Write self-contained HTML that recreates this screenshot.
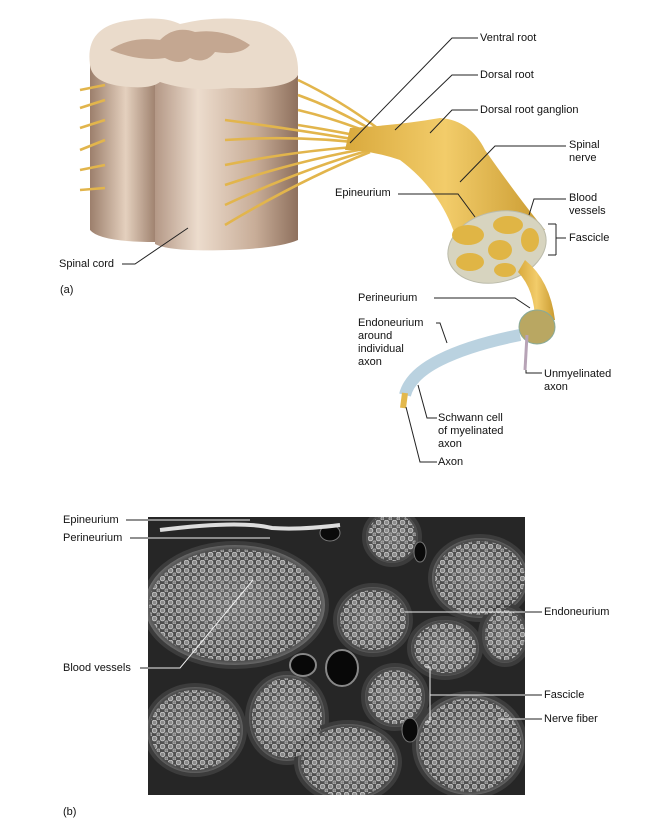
<!DOCTYPE html>
<html><head><meta charset="utf-8"><style>
body{margin:0;background:#fff;width:667px;height:824px;overflow:hidden;position:relative;font-family:"Liberation Sans",Arial,sans-serif}
.t{position:absolute;font-size:11px;line-height:13px;color:#111}
svg{position:absolute;left:0;top:0}
</style></head><body>
<svg width="667" height="824" viewBox="0 0 667 824">
<defs>
<linearGradient id="cl" x1="0" x2="1"><stop offset="0" stop-color="#9c7f6c"/><stop offset=".55" stop-color="#e4d0be"/><stop offset="1" stop-color="#a08370"/></linearGradient>
<linearGradient id="cr" x1="0" x2="1"><stop offset="0" stop-color="#b49886"/><stop offset=".3" stop-color="#ecdccd"/><stop offset=".7" stop-color="#c8ad98"/><stop offset="1" stop-color="#8e705d"/></linearGradient>
<linearGradient id="ny" x1="0" x2="1"><stop offset="0" stop-color="#d9a93c"/><stop offset=".5" stop-color="#f2cc6a"/><stop offset="1" stop-color="#c99a30"/></linearGradient>
<radialGradient id="fas"><stop offset="0" stop-color="#6a6a6a"/><stop offset=".9" stop-color="#4a4a4a"/><stop offset="1" stop-color="#777"/></radialGradient>
<pattern id="dots" width="8" height="8" patternUnits="userSpaceOnUse"><circle cx="2.5" cy="2.5" r="2.3" fill="#999" stroke="#ddd" stroke-width="1"/><circle cx="6.5" cy="6.5" r="1.6" fill="#888" stroke="#ccc" stroke-width=".8"/></pattern>
<clipPath id="mc"><rect x="148" y="517" width="377" height="278"/></clipPath>
</defs>
<!-- spinal cord -->
<path d="M90 65 L90 230 Q100 242 155 242 L155 80 Z" fill="url(#cl)"/>
<path d="M155 80 L155 244 Q170 252 230 250 Q280 248 298 240 L298 75 Z" fill="url(#cr)"/>
<path d="M90 65 Q85 30 120 22 Q160 14 180 24 Q220 14 260 22 Q300 35 298 75 Q290 90 230 88 Q190 92 160 82 Q150 90 120 86 Q92 82 90 65 Z" fill="#eadbcb"/>
<path d="M110 50 Q130 36 160 40 Q175 25 195 32 Q225 28 250 45 Q240 56 215 52 Q205 65 190 58 Q180 66 165 58 Q140 62 110 50Z" fill="#c4a791"/>
<!-- roots -->
<g stroke="#e2b54c" fill="none" stroke-width="2.6">
<path d="M298 80 Q340 100 380 130"/><path d="M298 95 Q340 110 380 135"/><path d="M298 110 Q340 120 380 137"/><path d="M298 125 Q330 130 380 140"/>
<path d="M225 120 Q300 130 370 142"/><path d="M225 140 Q300 135 370 144"/><path d="M225 165 Q300 150 370 146"/><path d="M225 185 Q300 160 370 148"/><path d="M225 205 Q300 170 370 150"/><path d="M225 225 Q300 180 370 152"/>
<path d="M80 90 L105 85"/><path d="M80 108 L105 100"/><path d="M80 128 L105 120"/><path d="M80 150 L105 140"/><path d="M80 170 L105 165"/><path d="M80 190 L105 188"/>
</g>
<!-- nerve -->
<path d="M350 128 Q400 125 440 118 Q470 120 485 150 Q520 200 545 230 L455 235 Q440 190 400 160 Q370 150 345 150 Z" fill="url(#ny)"/>
<ellipse cx="497" cy="247" rx="50" ry="35" transform="rotate(-15 497 247)" fill="#d7d4bf" stroke="#bba"/>
<g fill="#e0b545"><ellipse cx="468" cy="235" rx="16" ry="10"/><ellipse cx="508" cy="225" rx="15" ry="9"/><ellipse cx="500" cy="250" rx="12" ry="10"/><ellipse cx="530" cy="240" rx="9" ry="12"/><ellipse cx="470" cy="262" rx="14" ry="9"/><ellipse cx="505" cy="270" rx="11" ry="7"/></g>
<path d="M525 260 Q550 280 555 320 L535 322 Q535 290 518 272Z" fill="url(#ny)"/>
<ellipse cx="537" cy="327" rx="18" ry="17" fill="#b9a762" stroke="#8a9"/>
<path d="M520 335 Q470 345 440 360 Q410 375 405 395" stroke="#a9c7d8" stroke-width="12" fill="none" opacity=".8"/>
<path d="M405 393 L403 408" stroke="#e3b84c" stroke-width="6"/>
<line x1="527" y1="335" x2="525" y2="370" stroke="#b7a3b6" stroke-width="3"/>
<!-- micrograph -->
<rect x="148" y="517" width="377" height="278" fill="#262626"/>
<g clip-path="url(#mc)">
<g fill="url(#fas)" stroke="#3c3c3c" stroke-width="4">
<ellipse cx="235" cy="605" rx="92" ry="62"/><circle cx="392" cy="537" r="28"/><ellipse cx="480" cy="578" rx="50" ry="42"/><ellipse cx="373" cy="620" rx="38" ry="35"/><ellipse cx="445" cy="648" rx="36" ry="30"/><ellipse cx="505" cy="635" rx="25" ry="30"/><circle cx="395" cy="697" r="32"/><ellipse cx="195" cy="730" rx="50" ry="45"/><ellipse cx="287" cy="718" rx="40" ry="45"/><ellipse cx="348" cy="762" rx="52" ry="40"/><ellipse cx="470" cy="745" rx="56" ry="52"/>
</g>
<g fill="url(#dots)" opacity=".8">
<ellipse cx="235" cy="605" rx="86" ry="56"/><circle cx="392" cy="537" r="24"/><ellipse cx="480" cy="578" rx="45" ry="37"/><ellipse cx="373" cy="620" rx="33" ry="30"/><ellipse cx="445" cy="648" rx="31" ry="25"/><ellipse cx="505" cy="635" rx="20" ry="25"/><circle cx="395" cy="697" r="27"/><ellipse cx="195" cy="730" rx="45" ry="40"/><ellipse cx="287" cy="718" rx="35" ry="40"/><ellipse cx="348" cy="762" rx="47" ry="35"/><ellipse cx="470" cy="745" rx="51" ry="47"/>
</g>
<ellipse cx="303" cy="665" rx="13" ry="11" fill="#080808" stroke="#888" stroke-width="2"/><ellipse cx="342" cy="668" rx="16" ry="18" fill="#080808" stroke="#888" stroke-width="2"/>
<ellipse cx="330" cy="533" rx="10" ry="8" fill="#0a0a0a" stroke="#777"/><ellipse cx="410" cy="730" rx="8" ry="12" fill="#0a0a0a" stroke="#777"/><ellipse cx="420" cy="552" rx="6" ry="10" fill="#0a0a0a" stroke="#777"/>
<path d="M160 530 Q240 520 272 528 Q300 530 340 525" stroke="#ddd" stroke-width="4" fill="none"/>
</g>
<!-- leader lines -->
<g stroke="#222" stroke-width="1" fill="none">
<path d="M478 38 L452 38 L350 143"/><path d="M478 75 L452 75 L395 130"/><path d="M478 110 L452 110 L430 133"/>
<path d="M566 146 L495 146 L460 182"/><path d="M398 194 L458 194 L475 217"/><path d="M566 199 L534 199 L529 215"/>
<path d="M566 238 L556 238 M556 224 L556 255 M548 224 L556 224 M548 255 L556 255"/>
<path d="M122 264 L135 264 L188 228"/><path d="M434 298 L515 298 L530 308"/><path d="M436 323 L440 323 L447 343"/>
<path d="M542 373 L526 373 L526 370"/><path d="M437 418 L427 418 L418 385"/><path d="M437 462 L420 462 L406 407"/>
<path d="M126 520 L148 520"/><path d="M130 538 L148 538"/><path d="M542 612 L525 612"/><path d="M140 668 L148 668"/>
<path d="M542 695 L525 695"/><path d="M542 719 L525 719"/>
</g>
<g stroke="#eee" stroke-width="1" fill="none">
<path d="M148 520 L250 520"/><path d="M148 538 L270 538"/><path d="M525 612 L405 612"/><path d="M148 668 L180 668 L253 580"/>
<path d="M525 695 L430 695 M425 667 L430 667 L430 722 L425 722"/><path d="M525 719 L498 719"/>
</g>
</svg>
<div class="t" style="left:480px;top:32px">Ventral root</div>
<div class="t" style="left:480px;top:69px">Dorsal root</div>
<div class="t" style="left:480px;top:104px">Dorsal root ganglion</div>
<div class="t" style="left:569px;top:139px">Spinal<br>nerve</div>
<div class="t" style="left:335px;top:187px">Epineurium</div>
<div class="t" style="left:569px;top:192px">Blood<br>vessels</div>
<div class="t" style="left:569px;top:232px">Fascicle</div>
<div class="t" style="left:59px;top:258px">Spinal cord</div>
<div class="t" style="left:60px;top:284px">(a)</div>
<div class="t" style="left:358px;top:292px">Perineurium</div>
<div class="t" style="left:358px;top:317px">Endoneurium<br>around<br>individual<br>axon</div>
<div class="t" style="left:544px;top:368px">Unmyelinated<br>axon</div>
<div class="t" style="left:438px;top:412px">Schwann cell<br>of myelinated<br>axon</div>
<div class="t" style="left:438px;top:456px">Axon</div>
<div class="t" style="left:63px;top:514px">Epineurium</div>
<div class="t" style="left:63px;top:532px">Perineurium</div>
<div class="t" style="left:544px;top:606px">Endoneurium</div>
<div class="t" style="left:63px;top:662px">Blood vessels</div>
<div class="t" style="left:544px;top:689px">Fascicle</div>
<div class="t" style="left:544px;top:713px">Nerve fiber</div>
<div class="t" style="left:63px;top:806px">(b)</div>
</body></html>
